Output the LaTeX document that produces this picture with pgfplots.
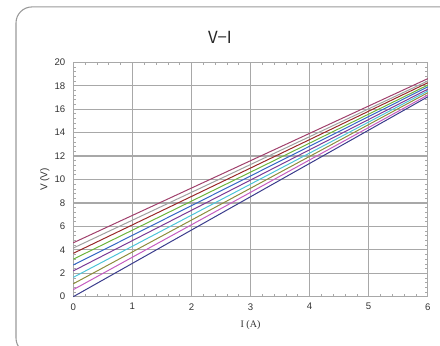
\documentclass[border=0pt]{standalone}
\usepackage{fontspec}
\setmainfont{Liberation Sans}
\newfontfamily\seriffont{Liberation Serif}
\newfontfamily\jpfont{Noto Sans CJK JP}
\usepackage{pgfplots}
\pgfplotsset{compat=1.18}
\definecolor{c1}{HTML}{3A3C8C}
\definecolor{c2}{HTML}{C45CC0}
\definecolor{c3}{HTML}{8C8C3C}
\definecolor{c4}{HTML}{4CC4D8}
\definecolor{c5}{HTML}{7A3A96}
\definecolor{c6}{HTML}{3466C4}
\definecolor{c7}{HTML}{6CB43C}
\definecolor{c8}{HTML}{982828}
\definecolor{c9}{HTML}{A0A0A0}
\definecolor{c10}{HTML}{A0406C}
\definecolor{gridc}{HTML}{A8A8A8}
\begin{document}
\begin{tikzpicture}
\begin{axis}[
  at={(0,0)}, anchor=origin,
  scale only axis,
  width=265.8pt, height=175.8pt,
  xmin=0, xmax=6, ymin=0, ymax=20,
  xtick={0,1,...,6}, ytick={0,2,...,20},
  minor x tick num=4, minor y tick num=4,
  grid=major,
  major grid style={gridc, line width=0.9pt},
  axis line style={gridc, line width=0.9pt},
  major tick length=0pt,
  minor tick length=2pt,
  tick style={gridc, line width=0.5pt},
  tick align=inside,
  ticklabel style={font=\fontsize{7.2}{8}\selectfont, text=black!80},
  /pgf/number format/assume math mode=true,
  xticklabel style={yshift=-1.5pt},
  yticklabel style={xshift=-2.5pt},
  xlabel={\seriffont I (A)},
  ylabel={V (V)},
  xlabel style={font=\fontsize{7.5}{8}\selectfont, text=black!80, yshift=-1pt},
  ylabel style={font=\fontsize{7.5}{8}\selectfont, text=black!80, yshift=-3pt},
  every axis plot/.append style={line width=0.75pt},
  clip=false,
]
\addplot[c1] coordinates {(0,0) (6,17.05)};
\addplot[c2] coordinates {(0,0.6) (6,17.2)};
\addplot[c3] coordinates {(0,1.1) (6,17.4)};
\addplot[c4] coordinates {(0,1.65) (6,17.55)};
\addplot[c5] coordinates {(0,2.2) (6,17.7)};
\addplot[c6] coordinates {(0,2.7) (6,17.9)};
\addplot[c7] coordinates {(0,3.2) (6,18.05)};
\addplot[c8] coordinates {(0,3.7) (6,18.25)};
\addplot[c9] coordinates {(0,4.15) (6,18.4)};
\addplot[c10] coordinates {(0,4.6) (6,18.6)};
\end{axis}
\node[font=\jpfont\fontsize{12.5}{14}\selectfont, text=black!85] at (110pt,194.8pt) {V−I};
\begin{scope}
\clip (-55pt,-37pt) rectangle (275pt,222.5pt);
\draw[black!40, line width=0.8pt, rounded corners=12pt] (-43pt,-43pt) rectangle (288pt,217.3pt);
\end{scope}
\pgfresetboundingbox
\useasboundingbox (-55pt,-37pt) rectangle (275pt,222.5pt);
\end{tikzpicture}
\end{document}
